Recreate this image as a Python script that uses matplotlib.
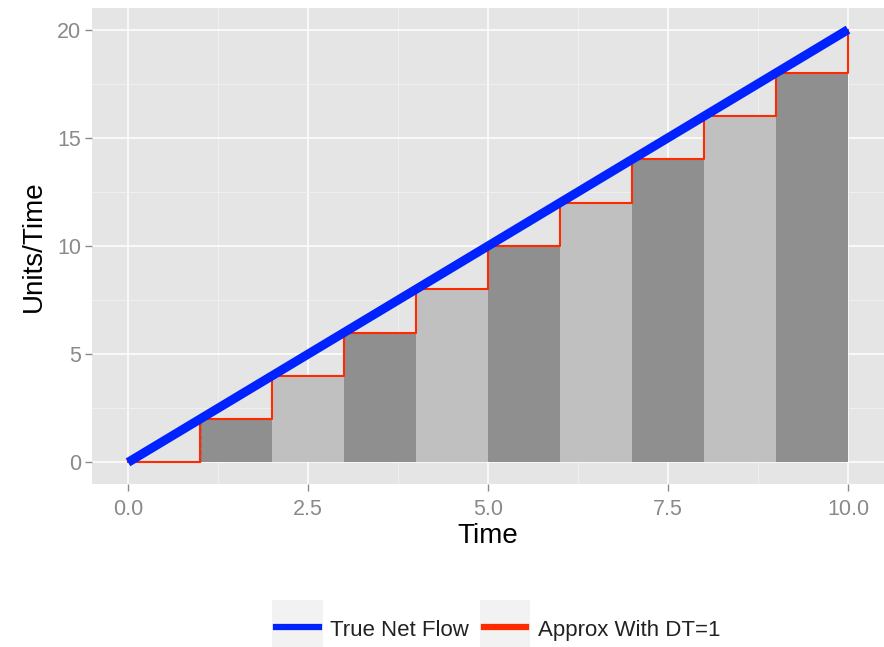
import matplotlib.pyplot as plt
import matplotlib.patches as mpatches
from matplotlib.lines import Line2D

plt.rcParams["font.family"] = ["Liberation Sans", "DejaVu Sans"]

# data
time = [0, 1, 2, 3, 4, 5, 6, 7, 8, 9, 10]
true_flow = [0, 2, 4, 6, 8, 10, 12, 14, 16, 18, 20]
approx = [0, 2, 4, 6, 8, 10, 12, 14, 16, 18, 20]
bar_left = [1, 2, 3, 4, 5, 6, 7, 8, 9]
bar_height = [2, 4, 6, 8, 10, 12, 14, 16, 18]
bar_shade = ["#8f8f8f", "#c0c0c0", "#8f8f8f", "#c0c0c0", "#8f8f8f",
             "#c0c0c0", "#8f8f8f", "#c0c0c0", "#8f8f8f"]
xticks = [0, 2.5, 5, 7.5, 10]
xticklabels = ["0.0", "2.5", "5.0", "7.5", "10.0"]
yticks = [0, 5, 10, 15, 20]
legend_labels = ["True Net Flow", "Approx With DT=1"]

fig = plt.figure(figsize=(8.84, 6.47), dpi=100)
ax = fig.add_axes([92/884, 1-484/647, 1-92/884, 476/647])
ax.set_facecolor("#e5e5e5")

ax.set_xlim(-0.5, 10.5)
ax.set_ylim(-1, 21)

# grid
ax.set_xticks(xticks)
ax.set_xticklabels(xticklabels)
ax.set_yticks(yticks)
ax.set_xticks([1.25, 3.75, 6.25, 8.75], minor=True)
ax.set_yticks([2.5, 7.5, 12.5, 17.5], minor=True)
ax.grid(which="major", color="white", linewidth=1.1)
ax.grid(which="minor", color="#f2f2f2", linewidth=0.6)
ax.set_axisbelow(True)
for s in ax.spines.values():
    s.set_visible(False)
ax.tick_params(which="major", colors="#8a8a8a", labelcolor="#8a8a8a",
               labelsize=15.5, length=5, width=1)
ax.tick_params(axis="x", which="major", pad=6)
ax.tick_params(axis="y", which="major", pad=3)
ax.tick_params(which="minor", length=0)

# bars
ax.bar(bar_left, bar_height, width=1, align="edge", color=bar_shade,
       linewidth=0, zorder=2)

# dashed line at first step
ax.plot([1, 1], [0, 2], color="#333333", linestyle="--", linewidth=1, zorder=3)

# red step approximation
ax.step(time, approx, where="post", color="#ff2a00", linewidth=1.5, zorder=4)

# true net flow
ax.plot(time, true_flow, color="#0022ff", linewidth=6.5, solid_capstyle="butt",
        zorder=5)

ax.set_xlabel("Time", fontsize=20, color="black", labelpad=2)
ax.set_ylabel("Units/Time", fontsize=20, color="black", labelpad=7)

# legend drawn in figure coordinates
W, H = 884, 647
keys = [(272, 323, 330, "#0022ff"), (480, 530, 538, "#ff2a00")]
for (k0, k1, tx, col), lab in zip(keys, legend_labels):
    fig.patches.append(mpatches.Rectangle((k0/W, 1-647/H), (k1-k0)/W, 47/H,
                                          transform=fig.transFigure,
                                          facecolor="#f2f2f2", edgecolor="none"))
    fig.lines.append(Line2D([(k0+4)/W, (k1-4)/W], [1-627/H, 1-627/H],
                            transform=fig.transFigure, color=col, linewidth=4.5))
    fig.text(tx/W, 1-628/H, lab, fontsize=16, color="#222222",
             va="center_baseline", ha="left")

fig.savefig("out.png", dpi=100)
